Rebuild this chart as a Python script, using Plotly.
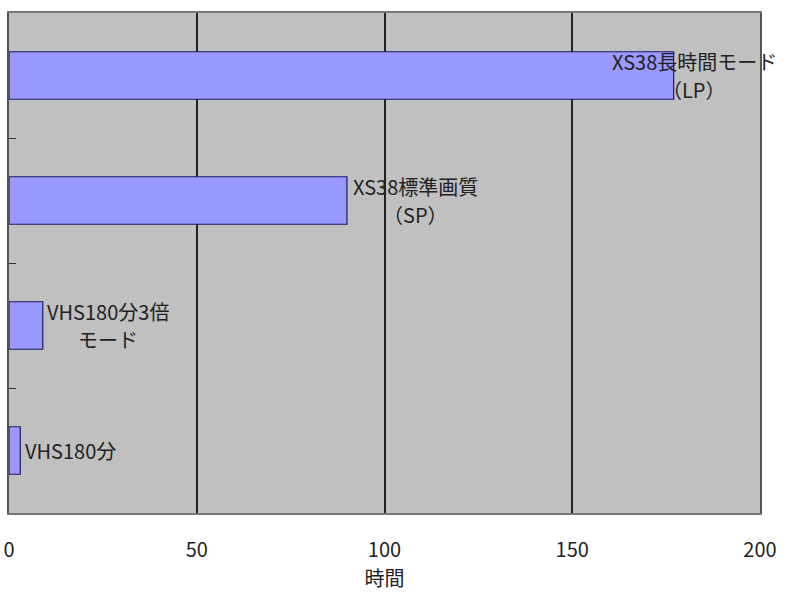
import unicodedata
import plotly.graph_objects as go

# data, bottom to top
categories = ["VHS180分", "VHS180分3倍モード", "XS38標準画質（SP）", "XS38長時間モード（LP）"]
hours = [3, 9, 90, 177]
label_line1 = ["VHS180分", "VHS180分3倍", "XS38標準画質", "XS38長時間モード"]
label_line2 = ["", "モード", "（SP）", "（LP）"]
x_ticks = [0, 50, 100, 150, 200]
x_title = "時間"

font_jp = "Noto Sans CJK JP, sans-serif"
FS = 20
lab_font = dict(family=font_jp, size=FS, color="#222")


def text_width(s, size=FS):
    # rough width: full-width chars 1em, the rest ~0.58em
    return sum(size if unicodedata.east_asian_width(c) in "WF" else 0.58 * size for c in s)


fig = go.Figure()
fig.add_trace(go.Bar(
    x=hours, y=categories, orientation="h",
    marker=dict(color="#9999FF", line=dict(color="#1a1a66", width=1.2)),
    width=0.38, showlegend=False, hoverinfo="skip",
))

# labels just past the bar end; the long one is pushed back inside the chart
for val, cat, l1, l2 in zip(hours, categories, label_line1, label_line2):
    half = max(text_width(l1), text_width(l2)) / 2
    if val > 0.8 * x_ticks[-1]:
        pos = dict(x=1, xref="paper", xanchor="center", xshift=-66)
    else:
        pos = dict(x=val, xanchor="center", xshift=5 + half)
    lines = [(l1, 0)] if not l2 else [(l1, 14), (l2, -14)]
    for txt, dy in lines:
        fig.add_annotation(y=cat, text=txt, showarrow=False, yshift=dy,
                           font=lab_font, **pos)

fig.update_layout(
    width=800, height=612,
    margin=dict(l=9, r=40, t=13, b=99),
    paper_bgcolor="white", plot_bgcolor="#C0C0C0",
    font=dict(family=font_jp, size=FS, color="#222"),
    bargap=0.6,
)
fig.update_xaxes(
    range=[x_ticks[0], x_ticks[-1]], tickvals=x_ticks, automargin=False,
    showgrid=True, gridcolor="#222", gridwidth=1.5,
    zeroline=False, showline=True, linecolor="#777", linewidth=1.5, mirror=True,
    ticks="", ticklabelstandoff=18, ticklabeloverflow="allow",
    title=dict(text=x_title, standoff=8, font=dict(size=FS)),
)
fig.update_yaxes(
    showticklabels=False, showgrid=False, automargin=False,
    showline=True, linecolor="#555", linewidth=1.5, mirror=True,
    ticks="inside", tickson="boundaries", ticklen=7, tickcolor="#333",
)

# drop the default 8px body margin so the figure sits at the page corner
fig.write_html("out.html", config={"displayModeBar": False},
               post_script="document.body.style.margin='0';")
